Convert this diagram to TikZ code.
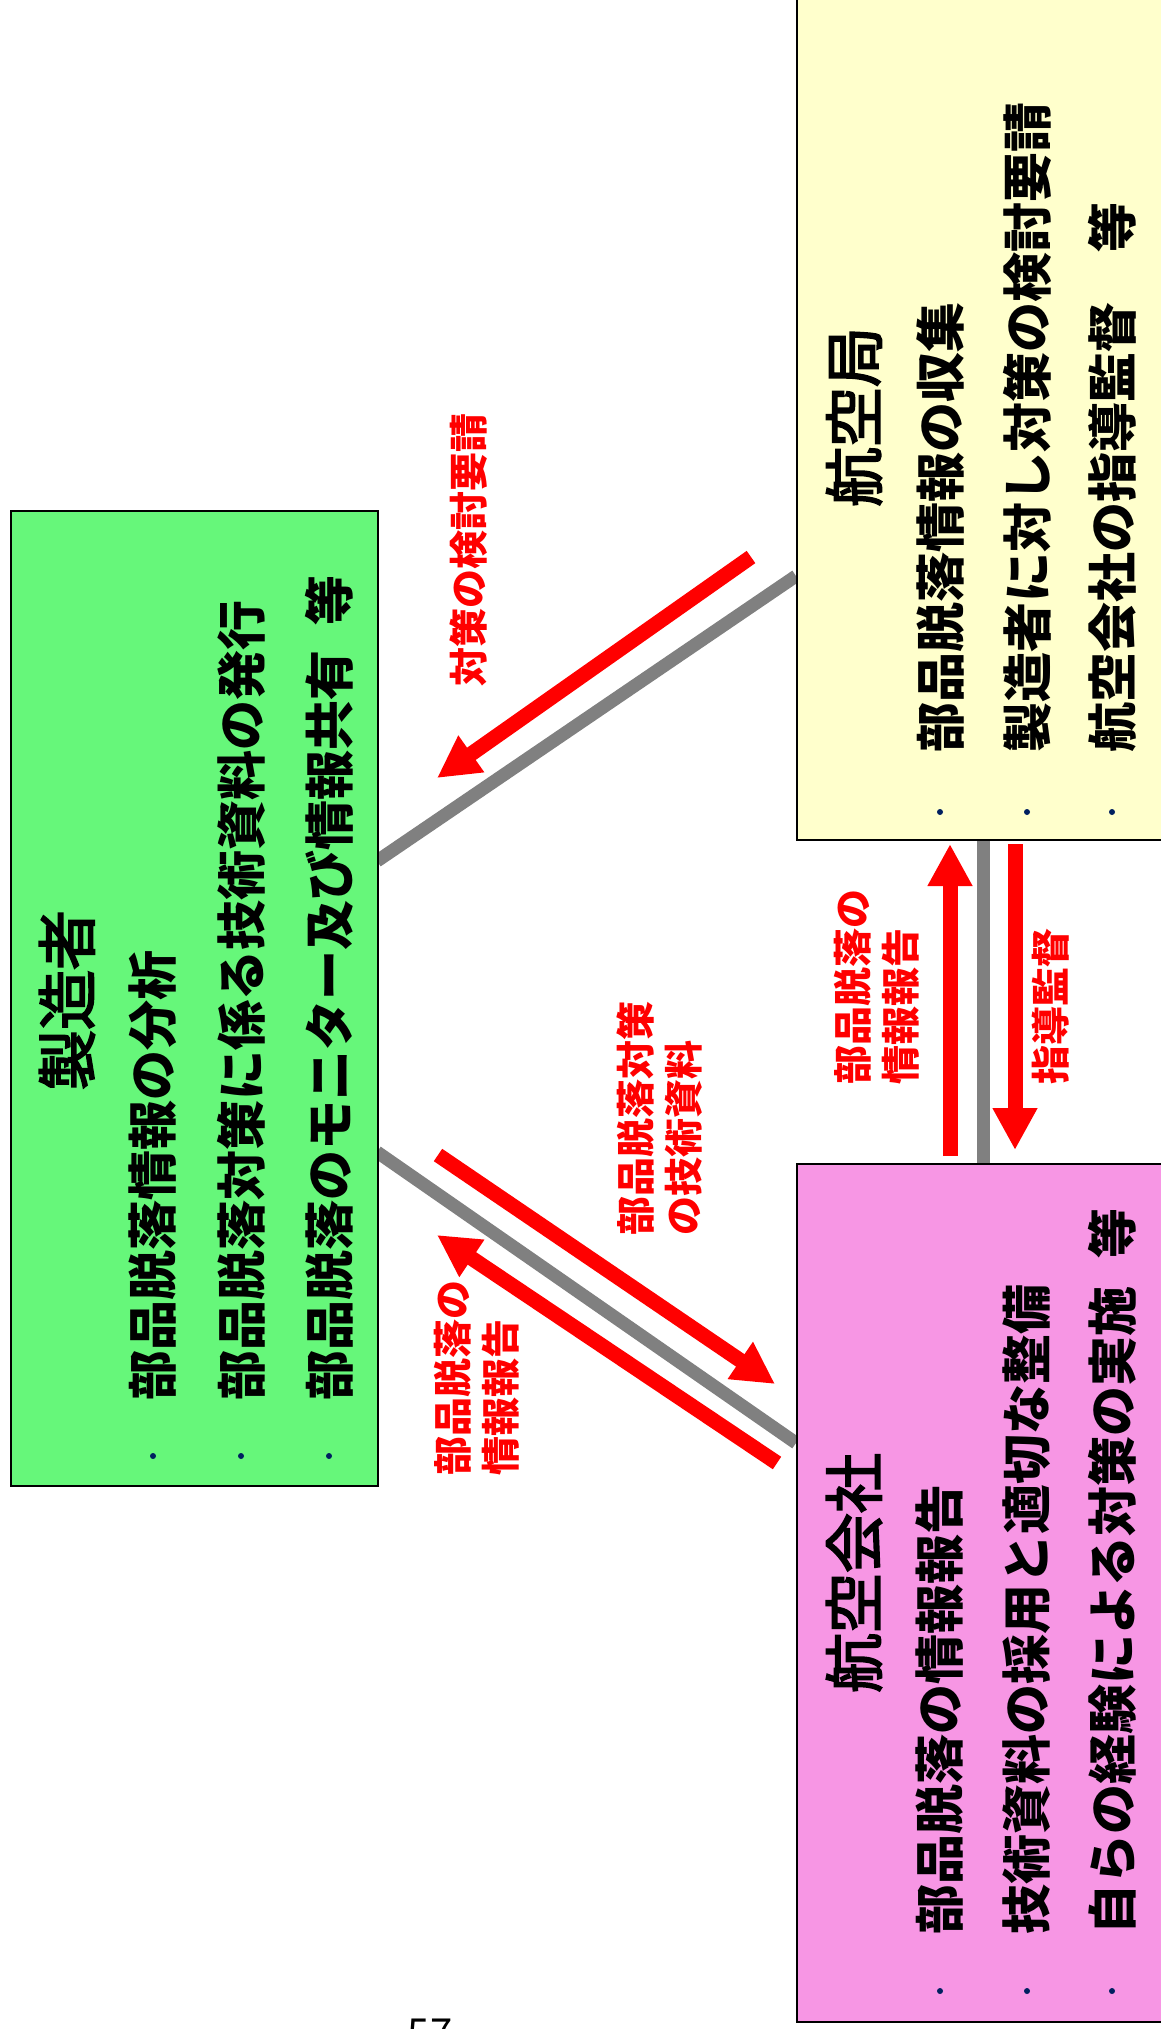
\documentclass[tikz,border=0pt]{standalone}
\usepackage{fontspec}
\newfontfamily\jp{Noto Sans CJK JP}
\newfontfamily\jptitle[FakeBold=3]{Noto Sans CJK JP}
\usetikzlibrary{arrows.meta}
\definecolor{mfgreen}{RGB}{102,247,122}
\definecolor{jcbyellow}{RGB}{255,255,204}
\definecolor{airpink}{RGB}{247,150,228}
\definecolor{bulletblue}{RGB}{0,32,96}
\definecolor{linkgray}{RGB}{128,128,128}
\begin{document}
\begin{tikzpicture}[x=1pt,y=1pt,
  box/.style={draw=black, line width=2pt, anchor=north west, inner sep=0},
  title/.style={rotate=90, font=\jptitle\fontsize{60}{66}\selectfont, inner sep=0},
  item/.style={rotate=90, anchor=west, font=\jp\bfseries\fontsize{50}{56}\selectfont, inner sep=0},
  lbl/.style={rotate=90, anchor=west, align=left, text=red, font=\jp\bfseries\fontsize{39}{48}\selectfont, inner sep=0},
  link/.style={draw=linkgray, line width=13pt},
  flow/.style={draw=red, line width=15pt, -{Triangle[width=42pt,length=42pt]}},
  dot/.style={circle, fill=bulletblue, inner sep=0, minimum size=6pt}]
\useasboundingbox (0,0) rectangle (1160,-2029);
\fill[white] (0,0) rectangle (1160,-2029);

% connector end points
\coordinate (l1a) at (377,-861);
\coordinate (l1b) at (796,-576);
\coordinate (l2a) at (377,-1152);
\coordinate (l2b) at (796,-1443);
\coordinate (l3a) at (983,-839);
\coordinate (l3b) at (983,-1163);

\draw[link] (l1a) -- (l1b);
\draw[link] (l2a) -- (l2b);
\draw[link] (l3a) -- (l3b);

% boxes
\node[box, fill=mfgreen, minimum width=367pt, minimum height=975pt] (mfr) at (10,-510) {};
\node[box, fill=jcbyellow, minimum width=380pt, minimum height=846pt] (jcab) at (796,7) {};
\node[box, fill=airpink, minimum width=380pt, minimum height=858pt] (air) at (796,-1163) {};

% titles
\node[title] (t1) at (67,-1000) {製造者};
\node[title] (t2) at (854,-417) {航空局};
\node[title] (t3) at (854,-1573) {航空会社};

% green items
\node[dot] (gb1) at (153,-1456) {};
\node[dot] (gb2) at (241,-1456) {};
\node[dot] (gb3) at (329,-1456) {};
\node[item] (g1) at (153,-1401) {部品脱落情報の分析};
\node[item] (g2) at (241,-1401) {部品脱落対策に係る技術資料の発行};
\node[item] (g3) at (329,-1401) {部品脱落のモニター及び情報共有\hspace{0.5em}等};

% yellow items
\node[dot] (yb1) at (940,-812) {};
\node[dot] (yb2) at (1027,-812) {};
\node[dot] (yb3) at (1112,-812) {};
\node[item] (y1) at (940,-753) {部品脱落情報の収集};
\node[item] (y2) at (1027,-753) {製造者に対し対策の検討要請};
\node[item] (y3) at (1112,-753) {航空会社の指導監督\hspace{1em}等};

% pink items
\node[dot] (pb1) at (940,-1991) {};
\node[dot] (pb2) at (1027,-1991) {};
\node[dot] (pb3) at (1112,-1991) {};
\node[item] (p1) at (940,-1935) {部品脱落の情報報告};
\node[item] (p2) at (1027,-1935) {技術資料の採用と適切な整備};
\node[item] (p3) at (1112,-1935) {自らの経験による対策の実施\hspace{0.55em}等};

% red arrows
\coordinate (a1s) at (751,-557);
\coordinate (a1e) at (437,-778);
\coordinate (a2s) at (438,-1155);
\coordinate (a2e) at (775,-1384);
\coordinate (a3s) at (777,-1463);
\coordinate (a3e) at (437,-1235);
\coordinate (a4s) at (950,-1156);
\coordinate (a4e) at (950,-844);
\coordinate (a5s) at (1015,-844);
\coordinate (a5e) at (1015,-1150);
\draw[flow] (a1s) -- (a1e);
\draw[flow] (a2s) -- (a2e);
\draw[flow] (a3s) -- (a3e);
\draw[flow] (a4s) -- (a4e);
\draw[flow] (a5s) -- (a5e);

% red labels
\node[lbl] (r1) at (469,-687) {対策の検討要請};
\node[lbl] (r2) at (660,-1236) {部品脱落対策\\の技術資料};
\node[lbl] (r3) at (477,-1476) {部品脱落の\\情報報告};
\node[lbl] (r4) at (877,-1085) {部品脱落の\\情報報告};
\node[lbl] (r5) at (1051,-1085) {指導監督};

% page number (cut by page edge)
\node[anchor=north, inner sep=0, font=\jp\fontsize{40}{40}\selectfont] (pg) at (430,-2019) {57};
\end{tikzpicture}
\end{document}
